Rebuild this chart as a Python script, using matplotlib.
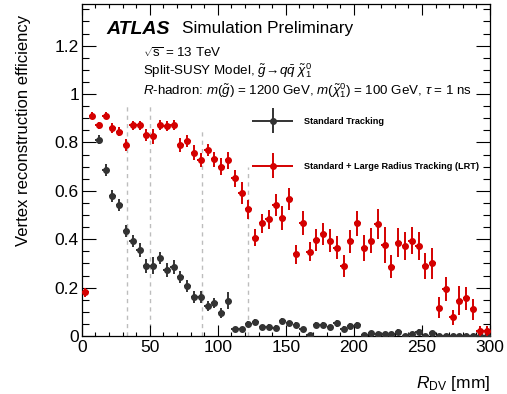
import numpy as np
import matplotlib
matplotlib.use("Agg")
import matplotlib.pyplot as plt
from matplotlib.container import ErrorbarContainer
from matplotlib.legend_handler import HandlerErrorbar
from matplotlib.ticker import MultipleLocator

plt.rcParams['font.family'] = ['Liberation Sans', 'DejaVu Sans']
plt.rcParams['mathtext.fontset'] = 'custom'
plt.rcParams['mathtext.rm'] = 'Liberation Sans'
plt.rcParams['mathtext.it'] = 'Liberation Sans:italic'
plt.rcParams['mathtext.bf'] = 'Liberation Sans:bold'

# 5 mm bins in R_DV
r_dv = np.arange(2.5, 300, 5.0)

eff_lrt = [0.18, 0.91, 0.87, 0.91, 0.86, 0.845, 0.79, 0.87, 0.87, 0.83,
           0.825, 0.873, 0.868, 0.873, 0.79, 0.807, 0.758, 0.727, 0.769, 0.73,
           0.70, 0.727, 0.652, 0.59, 0.523, 0.406, 0.466, 0.482, 0.541, 0.486,
           0.565, 0.338, 0.466, 0.348, 0.397, 0.421, 0.394, 0.365, 0.288, 0.392,
           0.466, 0.365, 0.394, 0.461, 0.376, 0.287, 0.386, 0.372, 0.394, 0.372,
           0.289, 0.300, 0.117, 0.194, 0.077, 0.145, 0.156, 0.110, 0.022, 0.022]
err_lrt = [0.017, 0.015, 0.015, 0.015, 0.02, 0.02, 0.025, 0.02, 0.02, 0.025,
           0.032, 0.02, 0.02, 0.02, 0.03, 0.025, 0.03, 0.03, 0.025, 0.03,
           0.035, 0.035, 0.035, 0.045, 0.04, 0.035, 0.04, 0.04, 0.045, 0.05,
           0.045, 0.04, 0.05, 0.04, 0.045, 0.047, 0.048, 0.048, 0.045, 0.047,
           0.052, 0.053, 0.052, 0.062, 0.075, 0.048, 0.06, 0.056, 0.055, 0.058,
           0.054, 0.064, 0.043, 0.048, 0.031, 0.06, 0.047, 0.044, 0.02, 0.02]

eff_std = [np.nan, np.nan, 0.812, 0.686, 0.579, 0.541, 0.434, 0.393, 0.355, 0.29,
           0.29, 0.324, 0.273, 0.286, 0.242, 0.207, 0.163, 0.163, 0.124, 0.135,
           0.094, 0.146, 0.028, 0.028, 0.048, 0.057, 0.036, 0.038, 0.034, 0.062,
           0.052, 0.045, 0.028, 0.003, 0.045, 0.045, 0.036, 0.052, 0.030, 0.041,
           0.045, 0.003, 0.014, 0.008, 0.008, 0.008, 0.018, 0.0, 0.008, 0.018,
           0.0, 0.014, 0.0, 0.0, 0.0, 0.0, 0.0, 0.0, 0.0, 0.0]
err_std = [np.nan, np.nan, 0.02, 0.025, 0.025, 0.025, 0.025, 0.025, 0.03, 0.03,
           0.035, 0.025, 0.03, 0.03, 0.025, 0.025, 0.025, 0.025, 0.02, 0.02,
           0.02, 0.035, 0.008, 0.008, 0.012, 0.012, 0.01, 0.01, 0.01, 0.014,
           0.012, 0.012, 0.01, 0.005, 0.012, 0.012, 0.01, 0.014, 0.01, 0.012,
           0.014, 0.004, 0.008, 0.006, 0.006, 0.006, 0.01, 0.0, 0.006, 0.01,
           0.0, 0.008, 0.0, 0.0, 0.0, 0.0, 0.0, 0.0, 0.0, 0.0]

# pixel layer radii and how high the guide lines reach
layer_r = [33.25, 50.5, 88.5, 122.5]
layer_top = [0.955, 0.955, 0.85, 0.70]

W, H = 507, 394
fig = plt.figure(figsize=(W / 100, H / 100), dpi=100)
ax = fig.add_axes([81.7 / W, 1 - 336 / H, (490 - 81.7) / W, (336 - 4) / H])

ax.vlines(layer_r, 0, layer_top, colors='#bdbdbd', linestyles=(0, (3, 3)), lw=1, zorder=1)

red = '#d40000'
grey = '#333333'
eb_std = ax.errorbar(r_dv, eff_std, xerr=2.5, yerr=err_std, fmt='o', ms=4, color=grey,
                     elinewidth=1.4, capsize=0, label='Standard Tracking', zorder=3)
eb_lrt = ax.errorbar(r_dv, eff_lrt, xerr=2.5, yerr=err_lrt, fmt='o', ms=4, color=red,
                     elinewidth=1.4, capsize=0, label='Standard + Large Radius Tracking (LRT)', zorder=4)

ax.set_xlim(0, 300)
ax.set_ylim(0, 1.372)
ax.xaxis.set_major_locator(MultipleLocator(50))
ax.xaxis.set_minor_locator(MultipleLocator(10))
ax.yaxis.set_major_locator(MultipleLocator(0.2))
ax.yaxis.set_minor_locator(MultipleLocator(0.05))
ax.yaxis.set_major_formatter(matplotlib.ticker.FuncFormatter(lambda v, p: f'{v:g}'))
ax.tick_params(axis='both', which='both', direction='in', top=True, right=True, labelsize=12.5)
ax.tick_params(axis='y', which='major', length=10, width=0.8, pad=2)
ax.tick_params(axis='y', which='minor', length=4.8, width=0.8)
ax.tick_params(axis='x', which='major', length=8, width=0.8, pad=3)
ax.tick_params(axis='x', which='minor', length=3.2, width=0.8)
for s in ax.spines.values():
    s.set_linewidth(0.9)

ax.set_ylabel('Vertex reconstruction efficiency', fontsize=12, ha='right', y=0.967)
ax.yaxis.set_label_coords(-0.125, 0.967)
ax.set_xlabel(r'$R_{\mathrm{DV}}$ [mm]', fontsize=12.5, ha='right', x=1.0)
ax.xaxis.set_label_coords(1.0, -0.115)

fig.text(106 / W, 1 - 29 / H, 'ATLAS', fontsize=14, fontweight='bold', style='italic', va='center')
fig.text(182 / W, 1 - 29 / H, 'Simulation Preliminary', fontsize=12.3, va='center')
fig.text(143 / W, 1 - 53 / H, r'$\sqrt{\mathrm{s}}$ = 13 TeV', fontsize=9.6, va='center')
fig.text(143 / W, 1 - 71 / H, r'Split-SUSY Model, $\tilde{g}\!\rightarrow\! q\bar{q}\ \tilde{\chi}^{0}_{1}$',
         fontsize=9.6, va='center')
fig.text(143 / W, 1 - 91 / H,
         r'$R$-hadron: $m(\tilde{g})$ = 1200 GeV, $m(\tilde{\chi}^{0}_{1})$ = 100 GeV, $\tau$ = 1 ns',
         fontsize=9.6, va='center')

leg = ax.legend(handles=[eb_std, eb_lrt], loc='upper left',
                bbox_to_anchor=(251.7 / W, 1 - 117 / H), bbox_transform=fig.transFigure,
                frameon=False, prop={'weight': 'bold', 'size': 6.6},
                handlelength=4.6, handletextpad=1.1, labelspacing=3.9, borderpad=0,
                borderaxespad=0,
                handler_map={ErrorbarContainer: HandlerErrorbar(xerr_size=2.25, yerr_size=1.35)})

fig.savefig('out.png', dpi=100)
